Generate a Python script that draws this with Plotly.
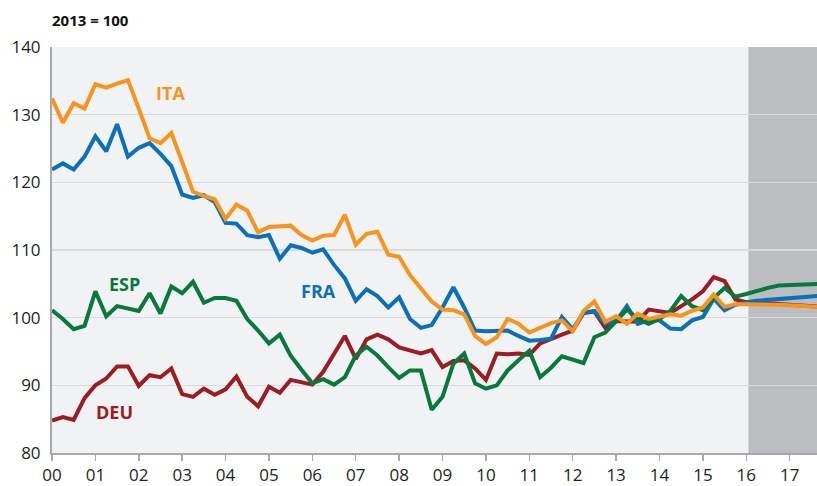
import plotly.graph_objects as go

# Quarterly index values, 2013 = 100, from 2000Q1 to 2017Q4
years = [2000 + q * 0.25 for q in range(72)]

ita = [132.4, 128.8, 131.7, 130.9, 134.5, 134.0, 134.6, 135.1,
       130.9, 126.5, 125.8, 127.3, 123.0, 118.6, 118.0, 117.5,
       114.6, 116.7, 115.8, 112.6, 113.4, 113.5, 113.6, 112.2,
       111.4, 112.1, 112.2, 115.2, 110.8, 112.4, 112.7, 109.3,
       109.0, 106.3, 104.4, 102.4, 101.2, 101.1, 100.5, 97.3,
       96.1, 97.1, 99.8, 99.1, 97.8, 98.5, 99.2, 99.6,
       98.0, 101.0, 102.4, 99.4, 100.2, 99.1, 100.6, 99.8,
       100.1, 100.5, 100.3, 101.0, 101.5, 103.4, 101.6, 102.0,
       102.0, 102.0, 101.95, 101.9, 101.85, 101.75, 101.65, 101.55]

fra = [121.9, 122.8, 121.9, 123.8, 126.8, 124.6, 128.6, 123.8,
       125.1, 125.8, 124.2, 122.4, 118.2, 117.7, 118.1, 117.1,
       114.0, 113.9, 112.2, 111.9, 112.2, 108.7, 110.7, 110.3,
       109.6, 110.1, 107.8, 105.8, 102.5, 104.2, 103.2, 101.5,
       103.0, 99.8, 98.5, 98.9, 101.5, 104.5, 101.5, 98.1,
       98.0, 98.0, 98.1, 97.3, 96.6, 96.7, 96.9, 100.1,
       98.3, 100.7, 101.0, 99.1, 99.5, 101.7, 99.1, 99.6,
       99.6, 98.4, 98.3, 99.6, 100.1, 102.8, 101.1, 101.9,
       102.3, 102.5, 102.6, 102.7, 102.8, 102.95, 103.1, 103.25]

esp = [101.1, 99.8, 98.3, 98.8, 103.9, 100.2, 101.7, 101.4,
       101.0, 103.6, 100.6, 104.6, 103.6, 105.3, 102.2, 102.9,
       102.9, 102.5, 99.8, 98.1, 96.2, 97.5, 94.4, 92.3,
       90.3, 90.9, 90.1, 91.2, 94.4, 95.7, 94.4, 92.7,
       91.1, 92.2, 92.2, 86.4, 88.3, 93.2, 94.7, 90.3,
       89.5, 90.0, 92.2, 93.7, 95.1, 91.2, 92.6, 94.3,
       93.8, 93.3, 97.1, 97.8, 99.5, 101.2, 99.8, 99.1,
       99.8, 101.0, 103.2, 101.7, 101.1, 102.9, 104.4, 103.1,
       103.5, 104.0, 104.4, 104.75, 104.85, 104.9, 104.95, 105.0]

deu = [84.8, 85.3, 84.9, 88.1, 90.0, 91.0, 92.8, 92.8,
       89.9, 91.5, 91.2, 92.5, 88.7, 88.3, 89.5, 88.6,
       89.4, 91.3, 88.3, 86.9, 89.8, 88.9, 90.8, 90.5,
       90.1, 92.0, 94.6, 97.3, 93.9, 96.8, 97.5, 96.8,
       95.6, 95.2, 94.7, 95.2, 92.7, 93.6, 93.7, 92.5,
       90.8, 94.7, 94.6, 94.7, 94.5, 96.2, 96.9, 97.5,
       98.1, 100.7, 100.9, 98.5, 99.5, 99.5, 99.4, 101.2,
       101.0, 100.7, 101.7, 102.7, 103.9, 106.0, 105.4, 102.7,
       102.3, 102.2, 102.1, 102.0, 101.9, 101.8, 101.7, 101.6]

tick_years = list(range(2000, 2018))
tick_labels = ["00", "01", "02", "03", "04", "05", "06", "07", "08", "09",
               "10", "11", "12", "13", "14", "15", "16", "17"]
y_ticks = [80, 90, 100, 110, 120, 130, 140]

forecast_start = 2016.05
x_end = 2017.63

series = [
    ("DEU", deu, "#9B1C23", 2001.43, 86.1),
    ("FRA", fra, "#0A71B9", 2006.14, 104.0),
    ("ESP", esp, "#08783D", 2001.66, 105.0),
    ("ITA", ita, "#F7941E", 2002.72, 133.2),
]

font_family = "Open Sans, Lato, Arial, sans-serif"

fig = go.Figure()
for name, vals, color, lx, ly in series:
    fig.add_trace(go.Scatter(x=years, y=vals, mode="lines", name=name,
                             line=dict(color=color, width=4),
                             showlegend=False, hoverinfo="skip"))
    fig.add_annotation(x=lx, y=ly, text="<b>%s</b>" % name, showarrow=False,
                       font=dict(family=font_family, size=18, color=color),
                       xanchor="center", yanchor="middle")

fig.add_shape(type="rect", xref="x", yref="y", x0=forecast_start, x1=x_end,
              y0=80, y1=140, fillcolor="#BCBDC1", line=dict(width=0),
              layer="below")

fig.add_annotation(xref="paper", yref="paper", x=0, y=1, xshift=-2, yshift=27,
                   text="<b>2013 = 100</b>", showarrow=False,
                   xanchor="left", yanchor="middle",
                   font=dict(family=font_family, size=15, color="#111111"))

fig.update_layout(
    width=817, height=486,
    margin=dict(l=52, r=0, t=47, b=29),
    paper_bgcolor="white",
    plot_bgcolor="#F1F2F4",
    font=dict(family=font_family, size=17, color="#231F20"),
    xaxis=dict(range=[2000, x_end], tickmode="array", tickvals=tick_years,
               ticktext=tick_labels, showgrid=False, zeroline=False,
               showline=True, linecolor="#A6A8AB", linewidth=2,
               ticks="outside", ticklen=6, tickwidth=1.5, tickcolor="#A6A8AB",
               tickfont=dict(size=17, color="#231F20")),
    yaxis=dict(range=[80, 140], tickmode="array", tickvals=y_ticks,
               showgrid=True, gridcolor="#D9DADD", gridwidth=1.5,
               zeroline=False, showline=True, linecolor="#A6A8AB", linewidth=2,
               ticks="", ticklabelstandoff=6,
               tickfont=dict(size=17, color="#231F20")),
)

fig.write_html("out.html",
               config={"displayModeBar": False, "staticPlot": True},
               post_script="document.body.style.margin='0';"
                           "document.body.style.padding='0';")
